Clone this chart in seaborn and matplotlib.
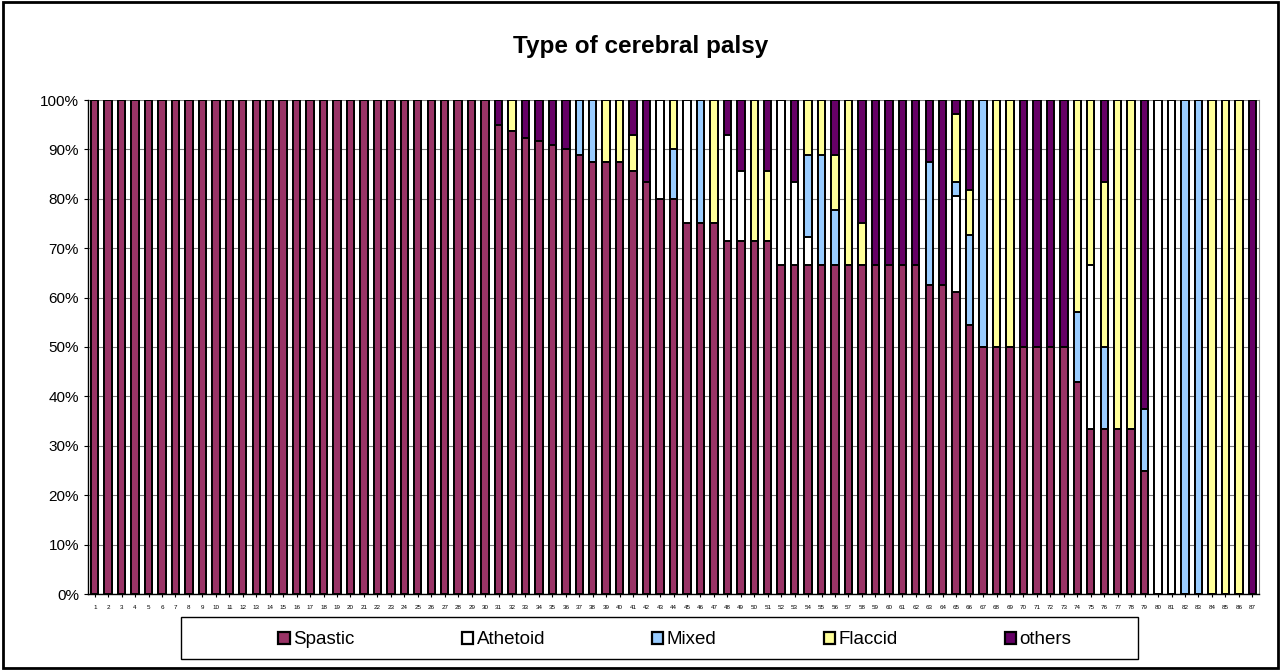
import matplotlib
matplotlib.use("Agg")
import matplotlib.pyplot as plt
import matplotlib.patches as patches
from matplotlib.ticker import PercentFormatter
import seaborn as sns

# percentages per patient
patients = [str(i) for i in range(1, 88)]

spastic = [100] * 30 + [
    95.0, 93.8, 92.3, 91.7, 90.9, 90.0, 88.9, 87.5, 87.5, 87.5,
    85.7, 83.3, 80.0, 80.0, 75.0, 75.0, 75.0, 71.4, 71.4, 71.4,
    71.4, 66.7, 66.7, 66.7, 66.7, 66.7, 66.7, 66.7, 66.7, 66.7,
    66.7, 66.7, 62.5, 62.5, 61.1, 54.5, 50.0, 50.0, 50.0, 50.0,
    50.0, 50.0, 50.0, 42.9, 33.3, 33.3, 33.3, 33.3, 25.0,
    0, 0, 0, 0, 0, 0, 0, 0]
athetoid = [0] * 30 + [
    0, 0, 0, 0, 0, 0, 0, 0, 0, 0,
    0, 0, 20.0, 0, 25.0, 0, 0, 21.5, 14.3, 0,
    0, 33.3, 16.6, 5.5, 0, 0, 0, 0, 0, 0,
    0, 0, 0, 0, 19.5, 0, 0, 0, 0, 0,
    0, 0, 0, 0, 33.4, 0, 0, 0, 0,
    100, 100, 0, 0, 0, 0, 0, 0]
mixed = [0] * 30 + [
    0, 0, 0, 0, 0, 0, 11.1, 12.5, 0, 0,
    0, 0, 0, 10.0, 0, 25.0, 0, 0, 0, 0,
    0, 0, 0, 16.7, 22.2, 11.1, 0, 0, 0, 0,
    0, 0, 25.0, 0, 2.7, 18.2, 50.0, 0, 0, 0,
    0, 0, 0, 14.2, 0, 16.7, 0, 0, 12.5,
    0, 0, 100, 100, 0, 0, 0, 0]
flaccid = [0] * 30 + [
    0, 6.2, 0, 0, 0, 0, 0, 0, 12.5, 12.5,
    7.2, 0, 0, 10.0, 0, 0, 25.0, 0, 0, 28.6,
    14.3, 0, 0, 11.1, 11.1, 11.1, 33.3, 8.3, 0, 0,
    0, 0, 0, 0, 13.9, 9.1, 0, 50.0, 50.0, 0,
    0, 0, 0, 42.9, 33.3, 33.3, 66.7, 66.7, 0,
    0, 0, 0, 0, 100, 100, 100, 0]
others = [0] * 30 + [
    5.0, 0, 7.7, 8.3, 9.1, 10.0, 0, 0, 0, 0,
    7.1, 16.7, 0, 0, 0, 0, 0, 7.1, 14.3, 0,
    14.3, 0, 16.7, 0, 0, 11.1, 0, 25.0, 33.3, 33.3,
    33.3, 33.3, 12.5, 37.5, 2.8, 18.2, 0, 0, 0, 50.0,
    50.0, 50.0, 50.0, 0, 0, 16.7, 0, 0, 62.5,
    0, 0, 0, 0, 0, 0, 0, 100]

names = ["Spastic", "Athetoid", "Mixed", "Flaccid", "others"]
colors = ["#993366", "#FFFFFF", "#99CCFF", "#FFFF99", "#660066"]
series = [spastic, athetoid, mixed, flaccid, others]

sns.set_style("white")
plt.rcParams["font.family"] = ["Liberation Sans", "DejaVu Sans"]
plt.rcParams["text.color"] = "black"
plt.rcParams["xtick.color"] = "black"
plt.rcParams["ytick.color"] = "black"

fig = plt.figure(figsize=(12.81, 6.70), dpi=100)
ax = fig.add_axes([88 / 1281, 76 / 670, (1259 - 88) / 1281, 494 / 670])

# cumulative tops, draw from the top segment down so lower ones cover
cums = []
run = [0.0] * len(patients)
for s in series:
    run = [a + b for a, b in zip(run, s)]
    cums.append(run)

for i in range(len(series) - 1, -1, -1):
    sns.barplot(x=patients, y=cums[i], order=patients, color=colors[i],
                edgecolor="black", linewidth=1.4, width=0.55,
                saturation=1, ax=ax, zorder=3)

ax.set_xlim(-0.5, len(patients) - 0.5)
ax.set_ylim(0, 100)
ax.set_yticks(range(0, 101, 10))
ax.yaxis.set_major_formatter(PercentFormatter(decimals=0))
ax.yaxis.grid(True, color="#808080", linewidth=0.8, zorder=0)
ax.set_axisbelow(True)
ax.tick_params(axis="y", labelsize=11, length=3, direction="out", left=True, colors="black")
ax.tick_params(axis="x", labelsize=4.5, length=2, direction="out", bottom=True, pad=6,
               colors="black")
ax.set_xlabel("")
ax.set_ylabel("")
for side in ["left", "bottom"]:
    ax.spines[side].set_color("black")
    ax.spines[side].set_linewidth(1.0)
ax.spines["top"].set_visible(False)
ax.spines["right"].set_color("#808080")

fig.text(0.5, 1 - 46 / 670, "Type of cerebral palsy", ha="center", va="center",
         fontsize=17.5, fontweight="bold", color="black")

handles = [patches.Patch(facecolor=c, edgecolor="black", linewidth=1.6) for c in colors]
leg = fig.legend(handles, names, loc="center", bbox_to_anchor=(675 / 1281, 1 - 640 / 670),
                 ncol=5, frameon=False, fontsize=13.5, handlelength=0.6, handleheight=0.6,
                 handletextpad=0.2, columnspacing=5.7)
for t in leg.get_texts():
    t.set_color("black")
fig.patches.append(patches.Rectangle((181 / 1281, 11 / 670), (1138 - 181) / 1281, 42 / 670,
                                     transform=fig.transFigure, fill=False,
                                     edgecolor="black", linewidth=1.0))
fig.patches.append(patches.Rectangle((0.002, 0.003), 0.996, 0.994,
                                     transform=fig.transFigure, fill=False,
                                     edgecolor="black", linewidth=2.0))

fig.savefig("out.png", dpi=100)
